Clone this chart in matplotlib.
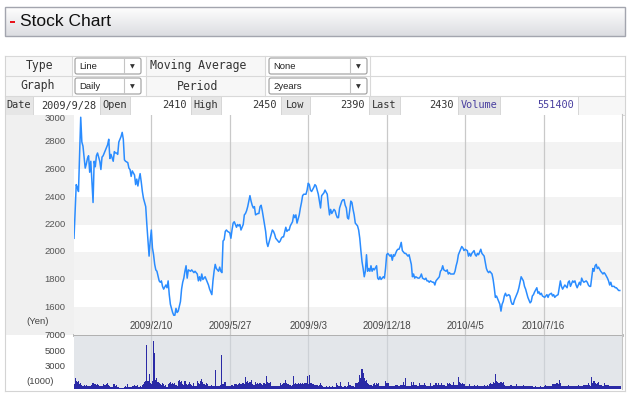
import matplotlib
matplotlib.use("Agg")
import matplotlib.pyplot as plt
import numpy as np
from matplotlib.colors import LinearSegmentedColormap
from matplotlib.patches import Rectangle, FancyBboxPatch

W, H = 630, 395

# ---- price line: trading-day index and close (yen) ----
price_day = [
    0, 2, 3, 4, 6, 7, 8, 10, 11, 12, 13, 14, 15, 17, 18, 19, 20, 21, 23, 24,
    25, 26, 27, 29, 30, 31, 32, 33, 35, 36, 37, 38, 39, 40, 42, 43, 44, 45, 46, 48,
    49, 50, 51, 52, 54, 55, 56, 57, 58, 59, 60, 61, 62, 64, 65, 66, 67, 68, 69, 70,
    71, 72, 73, 74, 76, 77, 78, 79, 80, 82, 83, 84, 85, 86, 88, 89, 90, 91, 92, 93,
    95, 96, 97, 98, 99, 100, 101, 102, 104, 105, 106, 107, 108, 110, 111, 112, 113, 114, 115, 117,
    118, 119, 120, 121, 123,
    124, 125, 126, 127, 129, 130, 131, 132, 133, 134, 135, 136, 137, 139, 140, 141, 142, 143, 145, 146,
    147, 148, 149, 151, 152, 153, 154, 155, 157, 158, 159, 160, 161, 162, 164, 165, 166, 167, 168, 170,
    171, 172, 173, 174, 176, 177, 178, 179, 180, 182, 183, 184, 185, 186, 187, 189, 190, 191, 192, 193,
    195, 196, 197, 198, 199, 201, 202, 203, 204, 205, 207, 208, 209, 210, 211, 212, 214, 215, 216, 217,
    218, 220, 221, 222, 223, 224, 226, 227, 228, 229, 230, 232, 233, 234, 235, 236, 237, 239, 240, 241,
    242, 243, 244,
    245, 246, 247, 248, 249, 250, 251, 252, 253, 254, 255, 256, 257, 258, 259, 260, 261, 262, 263, 264,
    265, 266, 267, 268, 270, 271, 272, 273, 274, 276, 277, 278, 279, 280, 282, 283, 284, 285, 286, 288,
    289, 290, 291, 292, 293, 295, 296, 297, 298, 299, 301, 302, 303, 304, 305, 307, 308, 309, 310, 311,
    313, 314, 315, 316, 317, 318, 320, 321, 322, 323, 324, 326, 327, 328, 329, 330, 332, 333, 334, 335,
    336, 338, 339, 340, 341, 342, 343, 345, 346, 347, 348, 349, 351, 352, 353, 354, 355, 357, 358, 359,
    360, 361, 363, 364, 365, 366,
    368, 369, 370, 371, 373, 374, 375, 376, 377, 379, 380, 381, 382, 383, 384, 385, 386, 388, 389, 390,
    391, 392, 393, 395, 396, 397, 398, 399, 401, 402, 403, 404, 405, 407, 408, 409, 410, 411, 413, 414,
    415, 416, 417, 418, 420, 421, 422, 423, 424, 426, 427, 428, 429, 430, 432, 433, 434, 435, 436, 438,
    439, 440, 441, 442, 443, 445, 446, 447, 448, 449, 451, 452, 453, 454, 455, 457, 458, 459, 460, 461,
    463, 464, 465, 466, 467, 468, 470, 471, 472, 473, 474, 476, 477, 478, 479, 480, 482, 483, 484, 485,
    486, 487,
]
price_yen = [
    2100, 2490, 2470, 2440, 2980, 2800, 2770, 2610, 2640, 2680, 2700, 2580, 2660, 2360, 2660, 2620, 2700, 2720, 2660, 2600,
    2690, 2700, 2720, 2760, 2780, 2820, 2680, 2710, 2660, 2730, 2720, 2720, 2710, 2800, 2840, 2870, 2820, 2670, 2660, 2650,
    2610, 2600, 2550, 2590, 2560, 2490, 2530, 2480, 2530, 2570, 2510, 2440, 2390, 2330, 2200, 2090, 1970, 2080, 2160, 2030,
    1980, 1910, 1870, 1860, 1790, 1780, 1790, 1750, 1730, 1760, 1740, 1790, 1690, 1620, 1560, 1540, 1540, 1590, 1560, 1570,
    1640, 1730, 1780, 1810, 1860, 1900, 1810, 1870, 1860, 1870, 1860, 1850, 1860, 1840, 1790, 1820, 1790, 1840, 1800, 1820,
    1800, 1780, 1760, 1730, 1690,
    1790, 1860, 1910, 1880, 1860, 1890, 1860, 1850, 2080, 2090, 2150, 2160, 2150, 2140, 2100, 2160, 2210, 2220, 2180, 2200,
    2190, 2200, 2160, 2200, 2270, 2280, 2300, 2330, 2410, 2370, 2340, 2320, 2330, 2270, 2280, 2280, 2330, 2340, 2300, 2200,
    2150, 2070, 2040, 2070, 2130, 2160, 2150, 2130, 2100, 2080, 2070, 2080, 2100, 2110, 2110, 2180, 2150, 2160, 2160, 2190,
    2220, 2270, 2250, 2270, 2210, 2270, 2320, 2360, 2410, 2420, 2420, 2450, 2500, 2490, 2450, 2440, 2470, 2490, 2480, 2450,
    2420, 2320, 2410, 2420, 2430, 2450, 2420, 2340, 2270, 2310, 2280, 2310, 2300, 2270, 2250, 2250, 2320, 2370, 2380, 2380,
    2340, 2320, 2250,
    2240, 2300, 2370, 2360, 2310, 2270, 2210, 2200, 2190, 2160, 2100, 2010, 1930, 1880, 1820, 1860, 1980, 1860, 1880, 1860,
    1900, 1860, 1880, 1870, 1900, 1810, 1800, 1820, 1800, 1820, 1810, 1880, 1980, 1990, 1970, 1980, 1940, 1980, 1970, 2010,
    2020, 2020, 2040, 2070, 2010, 1990, 1990, 1980, 1970, 1980, 1910, 1820, 1840, 1810, 1820, 1810, 1810, 1820, 1840, 1810,
    1800, 1810, 1790, 1790, 1780, 1790, 1780, 1780, 1760, 1790, 1800, 1820, 1860, 1870, 1900, 1870, 1860, 1870, 1840, 1850,
    1840, 1840, 1840, 1860, 1900, 1930, 1980, 2020, 2040, 2030, 2010, 2020, 2010, 1970, 1990, 1970, 1990, 2010, 1980, 1970,
    1990, 1980, 2020, 1990, 1980, 1970,
    1880, 1860, 1850, 1860, 1840, 1800, 1740, 1670, 1680, 1640, 1620, 1570, 1620, 1640, 1680, 1700, 1680, 1690, 1680, 1640,
    1620, 1620, 1650, 1690, 1710, 1740, 1780, 1820, 1790, 1750, 1730, 1700, 1670, 1630, 1640, 1680, 1690, 1710, 1740, 1700,
    1710, 1690, 1700, 1680, 1670, 1680, 1690, 1670, 1690, 1700, 1680, 1690, 1670, 1680, 1690, 1740, 1790, 1750, 1730, 1760,
    1750, 1740, 1780, 1790, 1750, 1790, 1780, 1790, 1760, 1740, 1780, 1760, 1810, 1790, 1780, 1790, 1780, 1760, 1750, 1750,
    1880, 1860, 1900, 1910, 1880, 1890, 1860, 1850, 1840, 1850, 1840, 1810, 1790, 1760, 1780, 1750, 1750, 1740, 1740, 1730,
    1720, 1720,
]

# ---- daily volume (thousand shares), one per trading day ----
volume_k = [
    700, 1450, 1100, 900, 1000, 700, 800, 550, 450, 500, 400, 500, 450, 350, 450, 400, 500, 800, 700, 600,
    500, 650, 500, 450, 400, 350, 600, 550, 500, 700, 800, 550, 350, 250, 300, 700, 600, 450, 500, 300,
    200, 150, 100, 150, 100, 200, 350, 300, 600, 200, 250, 300, 450, 350, 500, 400, 350, 550, 300, 400,
    300, 500, 600, 900, 1100, 5800, 1000, 2000, 800, 700, 1000, 6300, 4700, 1200, 1400, 900, 800, 600, 550, 800,
    600, 400, 500, 300, 700, 800, 900, 700, 800, 600, 800, 500, 400, 1000, 1200, 900, 1000, 700, 500, 1100,
    700, 500, 700, 900, 600, 500, 400, 800, 400, 450, 1000, 800, 600, 1100, 1300, 900, 700, 500, 800, 600,
    400, 450, 350, 500, 400, 450, 2500, 400, 350, 450, 400, 500, 4450, 600, 950, 900, 450, 400, 350, 450,
    400, 500, 450, 650, 600, 700, 550, 650, 750, 600, 750, 800, 700, 1550, 900, 1000, 800, 950, 1200, 700,
    500, 550, 950, 600, 750, 700, 800, 650, 500, 850, 800, 600, 1700, 950, 800, 900, 450, 400, 350, 400,
    450, 400, 350, 400, 850, 500, 600, 750, 800, 1200, 750, 700, 500, 550, 450, 500, 1700, 700, 750, 650,
    800, 700, 750, 650, 800, 700, 750, 800, 1750, 700, 1850, 800, 750, 650, 700, 500, 500, 550, 450, 500,
    850, 550, 450, 300, 300, 350, 300, 250, 350, 300, 300, 350, 250, 300, 850, 500, 400, 450, 900, 350,
    300, 350, 400, 300, 350, 950, 500, 550, 450, 350, 300, 850, 800, 850, 950, 1850, 1400, 2600, 2150, 1400,
    1100, 1200, 850, 600, 550, 500, 450, 600, 850, 500, 750, 700, 750, 400, 450, 400, 450, 400, 1100, 850,
    800, 850, 400, 350, 400, 350, 400, 500, 550, 500, 450, 500, 550, 500, 950, 500, 1400, 450, 400, 450,
    400, 950, 500, 950, 500, 550, 500, 450, 850, 500, 550, 500, 550, 750, 500, 450, 400, 450, 850, 400,
    450, 500, 550, 750, 500, 850, 550, 500, 850, 500, 550, 500, 450, 750, 700, 750, 700, 500, 550, 950,
    550, 500, 500, 1600, 950, 750, 700, 750, 700, 450, 400, 450, 400, 650, 450, 400, 450, 500, 400, 450,
    500, 400, 450, 400, 450, 400, 500, 450, 400, 500, 450, 700, 750, 700, 950, 800, 1950, 1100, 950, 800,
    800, 950, 800, 950, 500, 400, 350, 400, 400, 350, 500, 400, 350, 400, 350, 650, 400, 450, 400, 400,
    450, 500, 400, 450, 400, 350, 400, 350, 400, 350, 300, 300, 350, 300, 300, 300, 350, 300, 300, 300,
    350, 500, 400, 400, 450, 400, 400, 650, 650, 600, 700, 750, 700, 1200, 750, 400, 450, 400, 400, 450,
    400, 500, 450, 400, 450, 400, 400, 450, 450, 400, 500, 450, 400, 450, 400, 550, 500, 550, 500, 750,
    500, 450, 1600, 750, 1100, 800, 700, 750, 950, 500, 550, 500, 450, 750, 500, 550, 500, 550, 400, 350,
    400, 350, 400, 450, 400, 450, 400, 450, 400,
]

grid_day = [69, 139, 209, 279, 349, 419]
grid_label = ["2009/2/10", "2009/5/27", "2009/9/3", "2009/12/18", "2010/4/5", "2010/7/16"]
price_ticks = [1600, 1800, 2000, 2200, 2400, 2600, 2800, 3000]
band_lows = [1400, 1800, 2200, 2600]
vol_ticks = [7000, 5000, 3000]

control_labels = ["Type", "Graph", "Moving Average", "Period"]
control_values = ["Line", "Daily", "None", "2years"]
info_labels = ["Date", "Open", "High", "Low", "Last", "Volume"]
info_values = ["2009/9/28", "2410", "2450", "2390", "2430", "551400"]

MONO = "DejaVu Sans Mono"
SANS = "Liberation Sans"
PURPLE = "#4a40a0"

fig = plt.figure(figsize=(W / 100, H / 100), dpi=100)


def px_axes(x0, y0, x1, y1):
    return fig.add_axes([x0 / W, 1 - y1 / H, (x1 - x0) / W, (y1 - y0) / H])


bg = px_axes(0, 0, W, H)

# header bar
grad = np.linspace(0, 1, 32).reshape(-1, 1)
cmap = LinearSegmentedColormap.from_list("hdr", ["#fefefe", "#dcdde1"])
bg.imshow(grad, extent=(5, 625, 36, 7), aspect="auto", cmap=cmap, zorder=0)
bg.add_patch(Rectangle((5, 7), 620, 29, fill=False, ec="#a3a5ae", lw=1.0))
bg.add_patch(Rectangle((9.5, 20.5), 5.5, 2.6, color="#e8141c", lw=0))
bg.text(20, 22, "Stock Chart", fontsize=12.5, family=SANS, va="center", color="#111")

# control rows
for (x0, x1) in [(5, 72), (146, 265)]:
    bg.add_patch(Rectangle((x0, 56), x1 - x0, 40, fc="#f7f7f7", lw=0))
for y in [56, 76, 96]:
    bg.plot([5, 625], [y, y], color="#d9d9d9", lw=0.8)
for x in [72, 146, 265, 370]:
    bg.plot([x, x], [56, 96], color="#d9d9d9", lw=0.8)

label_pos = [(39, 66), (38, 86), (198, 66), (198, 86)]
for lab, (x, y) in zip(control_labels, label_pos):
    bg.text(x, y, lab, fontsize=8.3, family=MONO, ha="center", va="center", color="#333")

box_pos = [(75, 58, 141), (75, 78, 141), (269, 58, 367), (269, 78, 367)]
for val, (x0, y0, x1) in zip(control_values, box_pos):
    bg.add_patch(FancyBboxPatch((x0, y0), x1 - x0, 16, boxstyle="round,pad=0,rounding_size=2",
                                fc="white", ec="#9c9c9c", lw=0.8))
    bg.plot([x1 - 17, x1 - 17], [y0 + 1, y0 + 15], color="#c4c4c4", lw=0.8)
    bg.text(x1 - 8.5, y0 + 8.5, "\u25bc", fontsize=4.5, ha="center", va="center", color="#333")
    bg.text(x0 + 4, y0 + 8.5, val, fontsize=6.8, family=SANS, va="center", color="#222")

# info row
label_cells = [(5, 33), (100, 130), (191, 221), (281, 310), (369, 400), (458, 500)]
value_cells = [(33, 100), (130, 191), (221, 281), (310, 369), (400, 458), (500, 578)]
for i, (lab, val) in enumerate(zip(info_labels, info_values)):
    lx0, lx1 = label_cells[i]
    vx0, vx1 = value_cells[i]
    col = PURPLE if lab == "Volume" else "#333"
    bg.add_patch(Rectangle((lx0, 96), lx1 - lx0, 18.5, fc="#e6e6e6", ec="#d4d4d4", lw=0.6))
    bg.add_patch(Rectangle((vx0, 96), vx1 - vx0, 18.5, fc="white", ec="#d4d4d4", lw=0.6))
    bg.text((lx0 + lx1) / 2, 105.5, lab, fontsize=7.4, family=MONO, ha="center", va="center", color=col)
    bg.text(vx1 - 4, 105.5, val, fontsize=7.4, family=MONO, ha="right", va="center", color=col)
bg.add_patch(Rectangle((578, 96), 47, 18.5, fc="#f7f7f7", ec="#d4d4d4", lw=0.6))

# left label column + frame
bg.add_patch(Rectangle((5, 114.5), 69, 220, fc="#f0f0f0", lw=0))
bg.text(38, 321, "(Yen)", fontsize=6.8, family=SANS, ha="center", va="center", color="#444")
bg.plot([74, 622], [335.2, 335.2], color="#b1b1b1", lw=2.0)
bg.plot([5, 5], [56, 391], color="#d4d4d4", lw=0.8)
bg.plot([625, 625], [56, 391], color="#d4d4d4", lw=0.8)
bg.plot([5, 625], [391, 391], color="#d4d4d4", lw=0.8)
bg.set_xlim(0, W)
bg.set_ylim(H, 0)
bg.axis("off")

# price panel
ax = px_axes(74, 114.5, 622, 334.5)
ax.set_xlim(0, 489)
ax.set_ylim(1400, 3000)
for lo in band_lows:
    ax.axhspan(lo, lo + 200, color="#f3f3f3", lw=0, zorder=0)
for d in grid_day:
    ax.axvline(d, color="#c9c9c9", lw=0.9, zorder=1)
ax.plot(price_day, price_yen, color="#2a8cff", lw=1.1, zorder=3)
ax.set_xticks([])
ax.set_yticks([])
for name, s in ax.spines.items():
    s.set_visible(name == "right")
ax.spines["right"].set_color("#c4c4c4")
ytr = ax.get_yaxis_transform()
for v in price_ticks:
    ax.text(-0.015, v, str(v), transform=ytr, ha="right",
            va="top" if v == price_ticks[-1] else "center",
            fontsize=6.8, family=SANS, color="#555", clip_on=False)
for d, lab in zip(grid_day, grid_label):
    ax.text(d, 1462, lab, ha="center", va="center", fontsize=7, family=SANS, color="#444", zorder=4)

# volume panel
vx = px_axes(74, 336, 622, 389)
vx.set_facecolor("#e3e6ea")
vx.set_xlim(0, 489)
vx.set_ylim(0, 7000)
for d in grid_day:
    vx.axvline(d, color="#cdd1d6", lw=0.9, zorder=1)
vx.bar(np.arange(len(volume_k)), volume_k, width=1.0, color="#2a2aa6", lw=0, zorder=2)
vx.set_xticks([])
vx.set_yticks([])
for name, s in vx.spines.items():
    s.set_visible(name == "right")
vx.spines["right"].set_color("#c4c4c4")
vtr = vx.get_yaxis_transform()
for v in vol_ticks:
    vx.text(-0.015, v, str(v), transform=vtr, ha="right", va="center",
            fontsize=6.8, family=SANS, color="#444", clip_on=False)
vx.text(-0.036, 1000, "(1000)", transform=vtr, ha="right", va="center",
        fontsize=6.8, family=SANS, color="#444", clip_on=False)

fig.savefig("out.png", dpi=100)
